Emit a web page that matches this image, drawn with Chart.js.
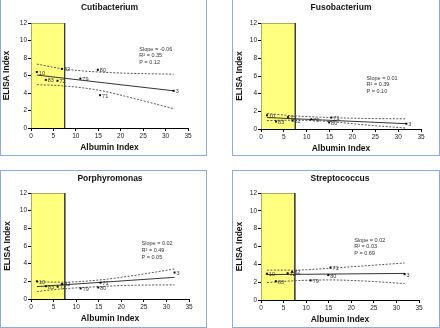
<!DOCTYPE html>
<html>
<head>
<meta charset="utf-8">
<script src="https://cdn.jsdelivr.net/npm/chart.js@4.4.0/dist/chart.umd.min.js"></script>
<style>
    body { margin: 0; background: #fff; width: 440px; height: 328px; overflow: hidden; position: relative; }
    .panel { position: absolute; box-sizing: border-box; border: 1px solid #8eaadb; background: #fff; }
    .panel canvas { position: absolute; left: 0; top: 0; }
</style>
</head>
<body>
<div class="panel" style="left:0;top:-1px;width:207px;height:157px"><canvas id="c1" width="205" height="155"></canvas></div>
<div class="panel" style="left:232px;top:-1px;width:208px;height:157px"><canvas id="c2" width="206" height="155"></canvas></div>
<div class="panel" style="left:0;top:170px;width:207px;height:158px"><canvas id="c3" width="205" height="156"></canvas></div>
<div class="panel" style="left:232px;top:170px;width:208px;height:158px"><canvas id="c4" width="206" height="156"></canvas></div>
<script>
// shared values (same patients in every panel)
const albuminIndex = [1.3, 3.3, 5.9, 6.9, 11.0, 14.9, 15.4, 31.8];
const patientIds = ['10', '83', '72', '82', '79', '80', '71', '3'];
const fitX = [1.3, 31.8];
const bandX = [1.3, 7, 15, 22, 31.8];
const normalX = [0, 0, 7.5, 7.5];
const normalY = [0, 12, 12, 0];

const titles = ['Cutibacterium', 'Fusobacterium', 'Porphyromonas', 'Streptococcus'];
const slopes = ['-0.06', '0.01', '0.02', '0.02'];
const rSquared = ['0.35', '0.39', '0.49', '0.03'];
const pValues = ['0.12', '0.10', '0.05', '0.69'];

// ELISA index per bacterium
const cutiElisa = [6.4, 5.5, 5.4, 6.75, 5.65, 6.65, 3.75, 4.25];
const cutiFit = [6.05, 4.25];
const cutiUpper = [7.3, 6.77, 6.4, 6.25, 6.15];
const cutiLower = [4.95, 4.82, 4.33, 3.5, 2.2];

const fusoElisa = [1.55, 0.85, 1.35, 0.95, 1.1, 0.75, 1.3, 0.6];
const fusoFit = [1.3, 0.6];
const fusoUpper = [1.75, 1.5, 1.3, 1.2, 1.15];
const fusoLower = [0.95, 1.0, 0.85, 0.5, 0.1];

const porphElisa = [2.0, 1.45, 1.4, 1.7, 1.2, 1.3, 1.85, 3.0];
const porphFit = [1.4, 2.45];
const porphUpper = [1.95, 1.9, 2.15, 2.6, 3.4];
const porphLower = [0.85, 1.15, 1.4, 1.55, 1.6];

const strepElisa = [2.95, 2.1, 3.0, 3.15, 2.2, 2.8, 3.65, 2.9];
const strepFit = [2.85, 2.98];
const strepUpper = [3.35, 3.35, 3.55, 3.8, 4.15];
const strepLower = [1.95, 2.15, 2.25, 2.15, 1.85];

const FONT = "'Liberation Sans', Arial, sans-serif";

function toPoints(xs, ys) {
    return xs.map(function (x, k) { return { x: x, y: ys[k] }; });
}

// panel layout: plot area inside each canvas, title / stats placement
const panels = [
    { id: 'c1', elisa: cutiElisa, fit: cutiFit, upper: cutiUpper, lower: cutiLower,
      area: { l: 30, r: 187, t: 23, b: 128 }, titleY: 7.5, xPad: 2, yPad: 1, stats: [0.69, 0.25] },
    { id: 'c2', elisa: fusoElisa, fit: fusoFit, upper: fusoUpper, lower: fusoLower,
      area: { l: 28, r: 188, t: 23, b: 129 }, titleY: 7.5, xPad: 1, yPad: 2, stats: [0.66, 0.52] },
    { id: 'c3', elisa: porphElisa, fit: porphFit, upper: porphUpper, lower: porphLower,
      area: { l: 30, r: 188, t: 22, b: 128 }, titleY: 8, xPad: 3, yPad: 1.2, stats: [0.70, 0.48] },
    { id: 'c4', elisa: strepElisa, fit: strepFit, upper: strepUpper, lower: strepLower,
      area: { l: 28, r: 186, t: 22, b: 129 }, titleY: 8, xPad: 2.5, yPad: 2, stats: [0.59, 0.44] }
];

var textPlugin = {
    id: 'panelText',
    afterDatasetsDraw: function (chart) {
        var ctx = chart.ctx;
        var ca = chart.chartArea;
        var cfg = chart.options.plugins.panelText;
        ctx.save();
        // point labels
        var meta = chart.getDatasetMeta(0);
        ctx.fillStyle = '#333';
        ctx.font = '5.5px ' + FONT;
        ctx.textAlign = 'left';
        ctx.textBaseline = 'middle';
        patientIds.forEach(function (id, k) {
            var el = meta.data[k];
            ctx.fillText(id, el.x + 2, el.y + 1);
        });
        // regression stats
        var sx = ca.left + cfg.stats[0] * (ca.right - ca.left);
        var sy = ca.top + cfg.stats[1] * (ca.bottom - ca.top);
        ctx.fillText('Slope = ' + slopes[cfg.index], sx, sy);
        ctx.fillText('R\u00B2 = ' + rSquared[cfg.index], sx, sy + 6.7);
        ctx.fillText('P = ' + pValues[cfg.index], sx, sy + 13.4);
        // title
        ctx.fillStyle = '#111';
        ctx.font = 'bold 8.5px ' + FONT;
        ctx.textAlign = 'center';
        ctx.fillText(titles[cfg.index], (ca.left + ca.right) / 2, cfg.titleY);
        ctx.restore();
    }
};

panels.forEach(function (p, i) {
    var canvas = document.getElementById(p.id);
    var W = canvas.width, H = canvas.height, a = p.area;
    new Chart(canvas.getContext('2d'), {
        type: 'scatter',
        data: {
            datasets: [{
                data: toPoints(albuminIndex, p.elisa),
                pointStyle: 'rect', pointRadius: 1.4, borderWidth: 0,
                backgroundColor: '#000', borderColor: '#000', showLine: false
            }, {
                data: toPoints(fitX, p.fit),
                showLine: true, pointRadius: 0, borderColor: '#333', borderWidth: 1
            }, {
                data: toPoints(bandX, p.upper),
                showLine: true, pointRadius: 0, borderColor: '#555', borderWidth: 1,
                borderDash: [2, 1.5], cubicInterpolationMode: 'monotone'
            }, {
                data: toPoints(bandX, p.lower),
                showLine: true, pointRadius: 0, borderColor: '#555', borderWidth: 1,
                borderDash: [2, 1.5], cubicInterpolationMode: 'monotone'
            }, {
                data: toPoints(normalX, normalY),
                showLine: true, pointRadius: 0, borderColor: '#333', borderWidth: 0.8,
                backgroundColor: '#ffff80', fill: 'origin'
            }]
        },
        options: {
            responsive: false,
            animation: false,
            devicePixelRatio: 1,
            layout: { padding: { left: 0, top: a.t, right: W - a.r, bottom: 0 } },
            plugins: {
                legend: { display: false },
                tooltip: { enabled: false },
                panelText: { index: i, stats: p.stats, titleY: p.titleY }
            },
            scales: {
                x: {
                    type: 'linear', min: 0, max: 35,
                    ticks: { stepSize: 5, maxRotation: 0, padding: 1.5, color: '#222', font: { size: 6.5, family: FONT } },
                    grid: { drawOnChartArea: false, tickLength: 3, color: '#000' },
                    border: { color: '#000', width: 1 },
                    title: { display: true, text: 'Albumin Index', color: '#111',
                        font: { size: 8.5, weight: 'bold', family: FONT }, padding: { top: 0, bottom: p.xPad } },
                    afterFit: function (s) { s.height = H - a.b; }
                },
                y: {
                    min: 0, max: 12,
                    ticks: { stepSize: 2, padding: 1, color: '#222', font: { size: 6.5, family: FONT } },
                    grid: { drawOnChartArea: false, tickLength: 3, color: '#000' },
                    border: { color: '#000', width: 1 },
                    title: { display: true, text: 'ELISA Index', color: '#111',
                        font: { size: 8.5, weight: 'bold', family: FONT }, padding: { top: p.yPad, bottom: 0 } },
                    afterFit: function (s) { s.width = a.l; }
                }
            }
        },
        plugins: [textPlugin]
    });
});
</script>
</body>
</html>
